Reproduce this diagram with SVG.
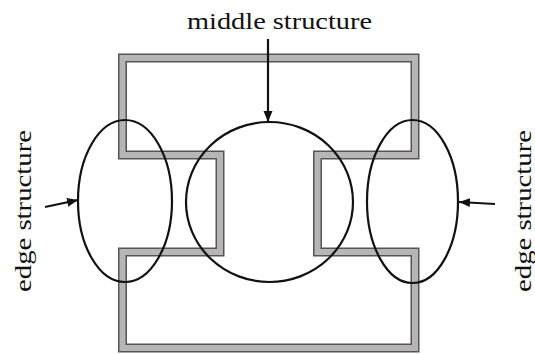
<svg xmlns="http://www.w3.org/2000/svg" width="535" height="354" viewBox="0 0 535 354">
  <style>
    .band-edge { fill: none; stroke: #555555; stroke-width: 9; stroke-linejoin: miter; }
    .band-fill { fill: none; stroke: #b7b5b5; stroke-width: 6; stroke-linejoin: miter; }
    .ring { fill: none; stroke: #111111; stroke-width: 2.2; }
    .conn { fill: none; stroke: #111111; stroke-width: 2.2; }
    .label { font-family: "Liberation Serif", "Times New Roman", serif; font-size: 24px; fill: #111111; }
  </style>
  <defs>
    <marker id="arrow" markerUnits="userSpaceOnUse" markerWidth="11" markerHeight="11" refX="11" refY="5.5" orient="auto">
      <path d="M0,1 L11,5.5 L0,10 z" fill="#111111"/>
    </marker>
  </defs>
  <rect width="535" height="354" fill="#ffffff"/>
  <g id="structure">
    <path class="band-edge" d="M122.5,58 H415 V155 H317.5 V252 H415 V348 H122.5 V252 H220 V155 H122.5 Z"/>
    <path class="band-fill" d="M122.5,58 H415 V155 H317.5 V252 H415 V348 H122.5 V252 H220 V155 H122.5 Z"/>
  </g>
  <g id="middle-region">
    <ellipse class="ring" cx="269.5" cy="202" rx="83.5" ry="80"/>
  </g>
  <g id="left-edge-region">
    <ellipse class="ring" cx="125" cy="201" rx="47" ry="81"/>
  </g>
  <g id="right-edge-region">
    <ellipse class="ring" cx="412.5" cy="201.5" rx="45.5" ry="81.5"/>
  </g>
  <g id="label-middle">
    <text class="label" x="187" y="29" textLength="185" lengthAdjust="spacingAndGlyphs">middle structure</text>
  </g>
  <g id="label-left">
    <text class="label" transform="translate(31,292) rotate(-90)" x="0" y="0" textLength="162" lengthAdjust="spacingAndGlyphs">edge structure</text>
  </g>
  <g id="label-right">
    <text class="label" transform="translate(531,292) rotate(-90)" x="0" y="0" textLength="162" lengthAdjust="spacingAndGlyphs">edge structure</text>
  </g>
  <g id="connectors">
    <line class="conn" x1="268" y1="39" x2="268" y2="122" marker-end="url(#arrow)"/>
    <line class="conn" x1="45" y1="207" x2="78" y2="200" marker-end="url(#arrow)"/>
    <line class="conn" x1="495" y1="204" x2="459" y2="202" marker-end="url(#arrow)"/>
  </g>
</svg>
